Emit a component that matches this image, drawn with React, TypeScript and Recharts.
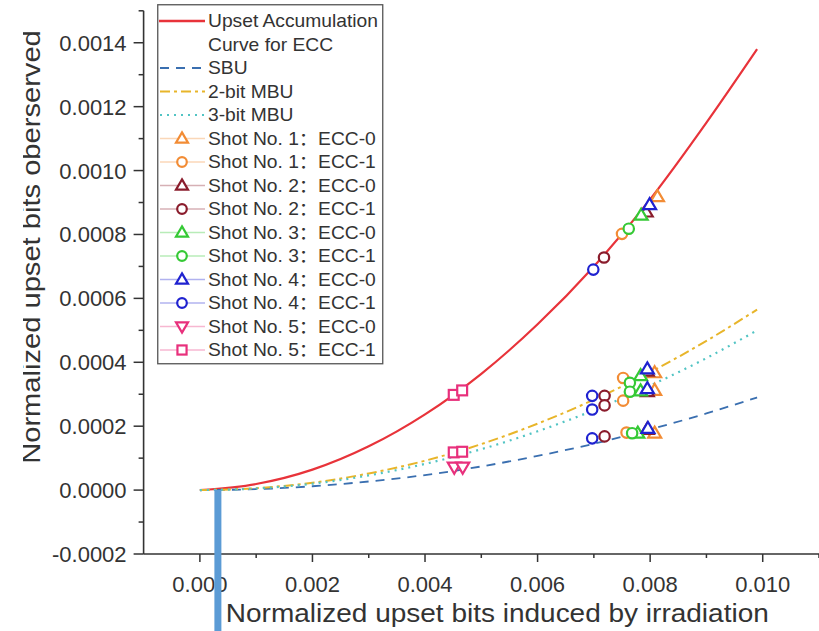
import React from 'react';
import { ComposedChart, Line, Scatter, XAxis, YAxis, Legend, ReferenceLine, Label } from 'recharts';

const FONT = '"Liberation Sans", Arial, Helvetica, "Noto Sans CJK SC", sans-serif';
const TEXT = '#333333';

// ---- data ----
const curveX = [0, 0.001, 0.002, 0.003, 0.004, 0.005, 0.006, 0.007, 0.008, 0.009, 0.0099];
const upsetAccumulation = [0, 0.000019, 0.000064, 0.000137, 0.000237, 0.000364, 0.000519, 0.0007, 0.00091, 0.00115, 0.00138];
const sbuCurve = [0, 0.000003, 0.000012, 0.000027, 0.000047, 0.000074, 0.000107, 0.000145, 0.00019, 0.00024, 0.00029];
const mbu2Curve = [0, 0.000006, 0.000023, 0.000052, 0.000092, 0.000144, 0.000208, 0.000283, 0.000369, 0.000467, 0.000565];
const mbu3Curve = [0, 0.000005, 0.00002, 0.000046, 0.000082, 0.000128, 0.000184, 0.00025, 0.000327, 0.000413, 0.0005];

const shot1Ecc0 = [[0.00813, 0.000918], [0.00808, 0.000367], [0.00808, 0.000312], [0.00808, 0.000178]];
const shot1Ecc1 = [[0.0075, 0.000802], [0.00752, 0.000351], [0.00752, 0.00028], [0.00758, 0.00018]];
const shot2Ecc0 = [[0.00793, 0.00087], [0.00795, 0.000372], [0.00795, 0.000308], [0.00795, 0.00019]];
const shot2Ecc1 = [[0.00718, 0.000728], [0.00719, 0.000295], [0.00719, 0.000265], [0.00719, 0.000168]];
const shot3Ecc0 = [[0.00784, 0.00086], [0.00783, 0.000358], [0.00783, 0.00031], [0.00778, 0.000178]];
const shot3Ecc1 = [[0.00762, 0.000818], [0.00764, 0.000336], [0.00764, 0.000308], [0.00768, 0.000178]];
const shot4Ecc0 = [[0.00799, 0.000893], [0.00795, 0.000379], [0.00795, 0.000317], [0.00796, 0.000193]];
const shot4Ecc1 = [[0.00699, 0.00069], [0.00697, 0.000295], [0.00697, 0.000252], [0.00697, 0.000162]];
const shot5Ecc0 = [[0.00452, 0.000072], [0.00467, 0.000072]];
const shot5Ecc1 = [[0.00451, 0.000298], [0.00466, 0.000312], [0.00451, 0.000118], [0.00466, 0.00012]];

const xTicks = [0, 0.001, 0.002, 0.003, 0.004, 0.005, 0.006, 0.007, 0.008, 0.009, 0.01, 0.011];
const yTicks = [-0.0002, -0.0001, 0, 0.0001, 0.0002, 0.0003, 0.0004, 0.0005, 0.0006, 0.0007, 0.0008, 0.0009, 0.001, 0.0011, 0.0012, 0.0013, 0.0014, 0.0015];
const annotationX = 0.00032;

const xTitle = 'Normalized upset bits induced by irradiation';
const yTitle = 'Normalized upset bits oberserved';

// ---- helpers ----
const toPoints = (xs: number[], ys: number[]) => xs.map((x, i) => ({ x, y: ys[i] }));
const pairPoints = (ps: number[][]) => ps.map(([x, y]) => ({ x, y }));

const curves = [
  { key: 'acc', color: '#e8333a', dash: undefined as string | undefined, width: 2.2, values: upsetAccumulation },
  { key: 'sbu', color: '#3a6fb0', dash: '9 7', width: 1.8, values: sbuCurve },
  { key: 'mbu2', color: '#e8b52a', dash: '10 4 3 4', width: 2, values: mbu2Curve },
  { key: 'mbu3', color: '#52c4c4', dash: '2 5', width: 2.2, values: mbu3Curve },
];

type Kind = 'triangle' | 'circle' | 'triangleDown' | 'square';
const shots: { name: string; color: string; kind: Kind; pts: number[][] }[] = [
  { name: 'Shot No. 1：ECC-0', color: '#f28c35', kind: 'triangle', pts: shot1Ecc0 },
  { name: 'Shot No. 1：ECC-1', color: '#f28c35', kind: 'circle', pts: shot1Ecc1 },
  { name: 'Shot No. 2：ECC-0', color: '#8a1c2c', kind: 'triangle', pts: shot2Ecc0 },
  { name: 'Shot No. 2：ECC-1', color: '#8a1c2c', kind: 'circle', pts: shot2Ecc1 },
  { name: 'Shot No. 3：ECC-0', color: '#35c935', kind: 'triangle', pts: shot3Ecc0 },
  { name: 'Shot No. 3：ECC-1', color: '#35c935', kind: 'circle', pts: shot3Ecc1 },
  { name: 'Shot No. 4：ECC-0', color: '#1f22d0', kind: 'triangle', pts: shot4Ecc0 },
  { name: 'Shot No. 4：ECC-1', color: '#1f22d0', kind: 'circle', pts: shot4Ecc1 },
  { name: 'Shot No. 5：ECC-0', color: '#e8307c', kind: 'triangleDown', pts: shot5Ecc0 },
  { name: 'Shot No. 5：ECC-1', color: '#e8307c', kind: 'square', pts: shot5Ecc1 },
];

function Marker({ cx, cy, kind, color, size = 13 }: { cx: number; cy: number; kind: Kind; color: string; size?: number }) {
  if (cx == null || cy == null) return null;
  const s = size;
  const common = { fill: '#ffffff', stroke: color, strokeWidth: 2.2 };
  if (kind === 'circle') return <circle cx={cx} cy={cy} r={s * 0.4} {...common} />;
  if (kind === 'square') return <rect x={cx - s * 0.38} y={cy - s * 0.38} width={s * 0.76} height={s * 0.76} {...common} />;
  const h = s * 0.85;
  if (kind === 'triangle') {
    return <path d={`M${cx},${cy - h * 0.6}L${cx + s / 2},${cy + h * 0.4}L${cx - s / 2},${cy + h * 0.4}Z`} {...common} />;
  }
  return <path d={`M${cx},${cy + h * 0.6}L${cx + s / 2},${cy - h * 0.4}L${cx - s / 2},${cy - h * 0.4}Z`} {...common} />;
}

const XTick = (props: any) => {
  const { x, y, payload } = props;
  const v = payload.value as number;
  const major = Math.round(v * 1000) % 2 === 0;
  return (
    <g>
      <line x1={x} x2={x} y1={y} y2={y + (major ? 8 : 4)} stroke={TEXT} strokeWidth={1.5} />
      {major && (
        <text x={x} y={y + 38} textAnchor="middle" fontSize={22} fill={TEXT} fontFamily={FONT}>
          {v.toFixed(3)}
        </text>
      )}
    </g>
  );
};

const YTick = (props: any) => {
  const { x, y, payload } = props;
  const v = payload.value as number;
  const major = Math.abs(Math.round(v * 10000)) % 2 === 0;
  return (
    <g>
      <line x1={x - (major ? 10 : 5)} x2={x} y1={y} y2={y} stroke={TEXT} strokeWidth={1.5} />
      {major && (
        <text x={x - 17} y={y + 8} textAnchor="end" fontSize={22} fill={TEXT} fontFamily={FONT}>
          {v.toFixed(4)}
        </text>
      )}
    </g>
  );
};

const YTitle = () => (
  <g>
    <defs>
      <clipPath id="ytitle-clip">
        <rect x={23} y={0} width={60} height={631} />
      </clipPath>
    </defs>
    <g clipPath="url(#ytitle-clip)">
      <text
        transform="translate(40,247) rotate(-90) scale(1.12,1)"
        textAnchor="middle"
        fontSize={26}
        fill={TEXT}
        fontFamily={FONT}
      >
        {yTitle}
      </text>
    </g>
  </g>
);

const XTitle = (props: any) => {
  const vb = props.viewBox || {};
  const cx = (vb.x ?? 0) + (vb.width ?? 0) / 2 + 16;
  return (
    <text transform={`translate(${cx},622) scale(1.12,1)`} textAnchor="middle" fontSize={25} fill={TEXT} fontFamily={FONT}>
      {xTitle}
    </text>
  );
};

const LegendBox = () => {
  const rowY = (i: number) => 17 + i * 23.5;
  const txt = (i: number, s: string) => (
    <text key={'t' + i} transform={`translate(51,${rowY(i) + 6}) scale(1.1,1)`} fontSize={17.5} fill={TEXT} fontFamily={FONT}>
      {s}
    </text>
  );
  return (
    <svg width={227} height={361} style={{ display: 'block' }}>
      <rect x={0.75} y={0.75} width={225} height={359} fill="#ffffff" stroke="#555" strokeWidth={1.3} />
      <line x1={2} x2={48} y1={rowY(0)} y2={rowY(0)} stroke={curves[0].color} strokeWidth={2.4} />
      {txt(0, 'Upset Accumulation')}
      {txt(1, 'Curve for ECC')}
      <line x1={3} x2={46} y1={rowY(2)} y2={rowY(2)} stroke={curves[1].color} strokeWidth={1.8} strokeDasharray={curves[1].dash} />
      {txt(2, 'SBU')}
      <line x1={3} x2={48} y1={rowY(3)} y2={rowY(3)} stroke={curves[2].color} strokeWidth={2} strokeDasharray={curves[2].dash} />
      {txt(3, '2-bit MBU')}
      <line x1={3} x2={48} y1={rowY(4)} y2={rowY(4)} stroke={curves[3].color} strokeWidth={2.2} strokeDasharray={curves[3].dash} />
      {txt(4, '3-bit MBU')}
      {shots.map((s, k) => {
        const i = k + 5;
        return (
          <g key={s.name}>
            <line x1={3} x2={48} y1={rowY(i)} y2={rowY(i)} stroke={s.color} strokeOpacity={0.35} strokeWidth={1.5} />
            <Marker cx={25} cy={rowY(i)} kind={s.kind} color={s.color} size={12} />
            {txt(i, s.name)}
          </g>
        );
      })}
    </svg>
  );
};

export default function App() {
  return (
    <div style={{ position: 'absolute', left: 0, top: 0, width: 819, height: 631, background: '#fff' }}>
      <ComposedChart width={819} height={631} margin={{ top: 10.8, right: 0, bottom: 0, left: 0 }}>
        <XAxis
          type="number"
          dataKey="x"
          domain={[-0.001, 0.011]}
          ticks={xTicks}
          interval={0}
          allowDataOverflow
          tick={XTick}
          tickLine={false}
          tickSize={0}
          tickMargin={0}
          height={77}
          axisLine={{ stroke: TEXT, strokeWidth: 1.6 }}
        >
          <Label content={XTitle} />
        </XAxis>
        <YAxis
          type="number"
          dataKey="y"
          domain={[-0.0002, 0.0015]}
          ticks={yTicks}
          interval={0}
          allowDataOverflow
          tick={YTick}
          tickLine={false}
          tickSize={0}
          tickMargin={0}
          width={143.6}
          axisLine={{ stroke: TEXT, strokeWidth: 1.6 }}
        >
          <Label content={YTitle} />
        </YAxis>
        {curves.map((c) => (
          <Line
            key={c.key}
            data={toPoints(curveX, c.values)}
            dataKey="y"
            type="monotone"
            stroke={c.color}
            strokeWidth={c.width}
            strokeDasharray={c.dash}
            dot={false}
            activeDot={false}
            isAnimationActive={false}
            legendType="none"
          />
        ))}
        {shots.map((s) => (
          <Scatter
            key={s.name}
            name={s.name}
            data={pairPoints(s.pts)}
            dataKey="y"
            isAnimationActive={false}
            shape={(p: any) => <Marker cx={p.cx} cy={p.cy} kind={s.kind} color={s.color} />}
          />
        ))}
        <ReferenceLine
          segment={[{ x: annotationX, y: 0 }, { x: annotationX, y: -0.00046 }]}
          stroke="#5b9bd5"
          strokeWidth={7}
          ifOverflow="visible"
          {...({ zIndex: 3000 } as any)}
        />
        <Legend
          layout="vertical"
          align="center"
          verticalAlign="middle"
          content={LegendBox}
          wrapperStyle={{ left: 157, top: 4, width: 227, height: 361 }}
        />
      </ComposedChart>
    </div>
  );
}
